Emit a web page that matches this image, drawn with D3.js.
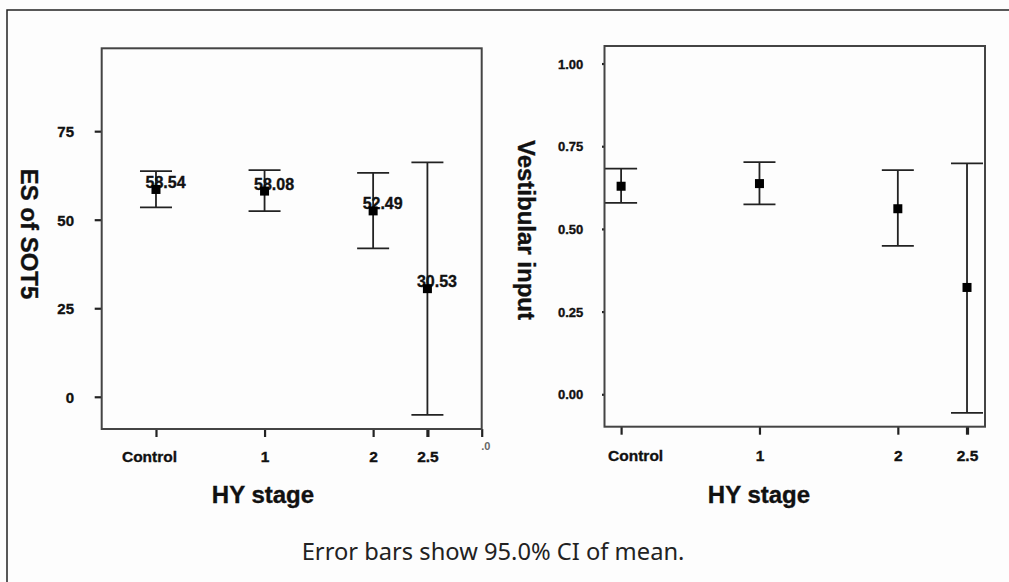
<!DOCTYPE html>
<html>
<head>
<meta charset="utf-8">
<script src="https://cdn.jsdelivr.net/npm/d3@7"></script>
<style>
  html, body { margin: 0; padding: 0; background: #fdfdfd; }
  svg { display: block; }
</style>
</head>
<body>
<svg id="chart" width="1009" height="582"></svg>
<script>
// ---------- data ----------
const categories = ["Control", "1", "2", "2.5"];
const hyStage = [0, 1, 2, 2.5];

const sotMean  = [58.54, 58.08, 52.49, 30.53];
const sotLower = [53.5, 52.4, 41.9, -5.1];
const sotUpper = [63.7, 64.0, 63.2, 66.2];
const sotLabels = ["58.54", "58.08", "52.49", "30.53"];

const vestMean  = [0.629, 0.637, 0.561, 0.323];
const vestLower = [0.579, 0.574, 0.449, -0.056];
const vestUpper = [0.682, 0.702, 0.678, 0.698];

const sotTicks  = [0, 25, 50, 75];
const vestTicks = [0, 0.25, 0.5, 0.75, 1.0];
const extraXTick = 3.0;

const yTitleLeft  = "ES of SOT5";
const yTitleRight = "Vestibular input";
const xTitle = "HY stage";
const footer = "Error bars show 95.0% CI of mean.";

// ---------- drawing ----------
const svg = d3.select("#chart");
const FONT = "'Liberation Sans', Arial, sans-serif";
const INK = "#111";

function boldText(sel, size) {
  return sel.attr("font-family", FONT).attr("font-weight", "bold")
    .attr("font-size", size).attr("fill", INK)
    .attr("stroke", INK).attr("stroke-width", 0.35);
}

// outer frame (extends beyond the picture on right and bottom)
svg.append("rect")
  .attr("x", 7).attr("y", 10).attr("width", 1100).attr("height", 700)
  .attr("fill", "#fdfdfd").attr("stroke", "#222").attr("stroke-width", 1.5);

function panel(opts) {
  const { x, y, mean, lower, upper, yTicks, yFmt, yTickSize, yTickFont, yLabelOffset,
          xTickAxisY, labels, ctrlDx, title, titleX, titleY, xTitleX, extra, id } = opts;
  const [x0, x1] = x.range();
  const [yb, yt] = y.range();
  const g = svg.append("g");

  svg.append("clipPath").attr("id", id)
    .append("rect").attr("x", x0).attr("y", yt).attr("width", x1 - x0).attr("height", yb - yt);

  // y axis ticks
  const yAxis = d3.axisLeft(y).tickValues(yTicks).tickFormat(yFmt).tickSize(yTickSize).tickPadding(0);
  const ya = g.append("g").attr("transform", `translate(${x0},0)`).call(yAxis);
  ya.select(".domain").remove();
  ya.selectAll(".tick line").attr("stroke", "#222").attr("stroke-width", 2.2);
  boldText(ya.selectAll(".tick text"), yTickFont)
    .attr("x", yLabelOffset).attr("dy", "0.36em");

  // x axis ticks
  const xVals = extra ? hyStage.concat([extraXTick]) : hyStage.slice();
  const xAxis = d3.axisBottom(x).tickValues(xVals)
    .tickFormat((d) => { const i = hyStage.indexOf(d); return i >= 0 ? categories[i] : ".0"; })
    .tickSize(8).tickPadding(0);
  const xa = g.append("g").attr("transform", `translate(0,${yb})`).call(xAxis);
  xa.select(".domain").remove();
  xa.selectAll(".tick line").attr("stroke", "#222")
    .attr("stroke-width", (d) => d === 2.5 ? 3.2 : 2.2);
  boldText(xa.selectAll(".tick text"), 15.5)
    .attr("y", xTickAxisY - yb).attr("dy", 0)
    .attr("dx", (d) => d === 0 ? ctrlDx : 0);
  xa.selectAll(".tick").filter((d) => d === extraXTick).select("text")
    .attr("text-anchor", "start").attr("font-size", 11).attr("fill", "#666")
    .attr("stroke", "none")
    .attr("y", 450 - yb).attr("dx", -1);

  // plot frame
  g.append("rect")
    .attr("x", x0).attr("y", yt).attr("width", x1 - x0).attr("height", yb - yt)
    .attr("fill", "none").attr("stroke", "#444").attr("stroke-width", 2);

  // error bars
  const marks = g.append("g").attr("clip-path", `url(#${id})`);
  const idx = d3.range(hyStage.length);
  const capHalf = 16;
  marks.selectAll("line.stem").data(idx).join("line")
    .attr("x1", (i) => x(hyStage[i])).attr("x2", (i) => x(hyStage[i]))
    .attr("y1", (i) => y(lower[i])).attr("y2", (i) => y(upper[i]))
    .attr("stroke", "#222").attr("stroke-width", 1.8);
  marks.selectAll("line.capU").data(idx).join("line")
    .attr("x1", (i) => x(hyStage[i]) - capHalf).attr("x2", (i) => x(hyStage[i]) + capHalf)
    .attr("y1", (i) => y(upper[i])).attr("y2", (i) => y(upper[i]))
    .attr("stroke", "#222").attr("stroke-width", 1.8);
  marks.selectAll("line.capL").data(idx).join("line")
    .attr("x1", (i) => x(hyStage[i]) - capHalf).attr("x2", (i) => x(hyStage[i]) + capHalf)
    .attr("y1", (i) => y(lower[i])).attr("y2", (i) => y(lower[i]))
    .attr("stroke", "#222").attr("stroke-width", 1.8);

  // value labels
  if (labels) {
    boldText(g.selectAll("text.val").data(idx).join("text"), 16)
      .attr("x", (i) => x(hyStage[i]) - 10.5)
      .attr("y", (i) => y(mean[i]) - 1.5)
      .text((i) => labels[i]);
  }

  // markers
  const ms = 9;
  g.selectAll("rect.mk").data(idx).join("rect")
    .attr("x", (i) => x(hyStage[i]) - ms / 2).attr("y", (i) => y(mean[i]) - ms / 2)
    .attr("width", ms).attr("height", ms).attr("fill", "#000");

  // y title (reads top to bottom)
  boldText(svg.append("text"), 24)
    .attr("transform", `translate(${titleX},${titleY}) rotate(90)`)
    .attr("text-anchor", "middle")
    .text(title);

  // x title
  boldText(svg.append("text"), 24)
    .attr("x", xTitleX).attr("y", 503)
    .attr("text-anchor", "middle")
    .text(xTitle);
}

// left panel
const xL = d3.scaleLinear().domain([-0.5, 3.0]).range([101.7, 481.7]);
const yL = d3.scaleLinear().domain([-9.1, 98.4]).range([429, 48.3]);
panel({
  x: xL, y: yL, mean: sotMean, lower: sotLower, upper: sotUpper,
  yTicks: sotTicks, yFmt: d3.format("d"), yTickSize: 7, yTickFont: 15, yLabelOffset: -27.7,
  xTickAxisY: 461.5, labels: sotLabels, ctrlDx: -7,
  title: yTitleLeft, titleX: 21, titleY: 234, xTitleX: 263, extra: true, id: "clipL"
});

// right panel
const xR = d3.scaleLinear().domain([-0.12, 2.63]).range([604.5, 985]);
const yR = d3.scaleLinear().domain([-0.098, 1.053]).range([426.7, 46]);
panel({
  x: xR, y: yR, mean: vestMean, lower: vestLower, upper: vestUpper,
  yTicks: vestTicks, yFmt: d3.format(".2f"), yTickSize: 2.5, yTickFont: 13, yLabelOffset: -21.2,
  xTickAxisY: 461.5, labels: null, ctrlDx: 14,
  title: yTitleRight, titleX: 517.5, titleY: 230, xTitleX: 759, extra: false, id: "clipR"
});

// footer
const ft = svg.append("text")
  .attr("x", 301.7).attr("y", 560)
  .attr("font-family", "'Noto Sans', 'Open Sans', sans-serif")
  .attr("font-size", 22).attr("fill", "#222")
  .text(footer);
const w = ft.node().getComputedTextLength();
ft.attr("font-size", 22 * 383 / w);
</script>
</body>
</html>
